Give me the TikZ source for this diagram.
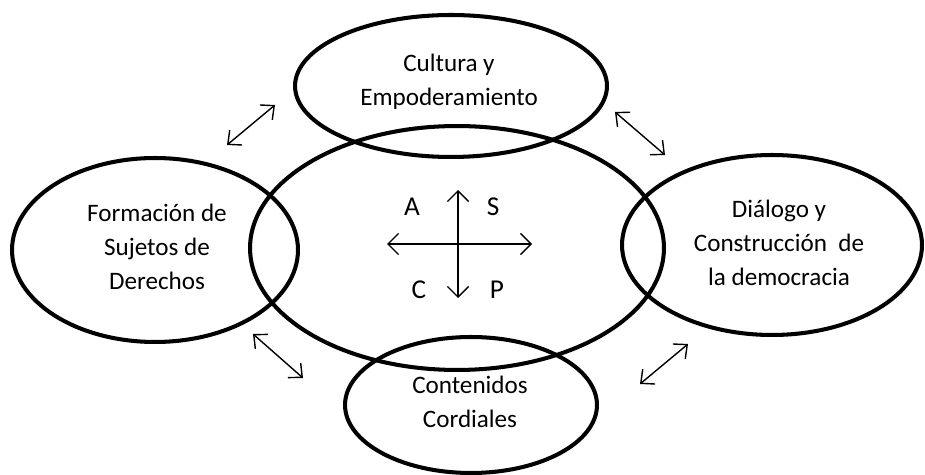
\documentclass[tikz,border=0pt]{standalone}
\usepackage{fontspec}
\setmainfont{Carlito}
\usetikzlibrary{shapes.geometric,arrows.meta}
\begin{document}
\begin{tikzpicture}[x=0.02cm,y=-0.02cm,
  oval/.style={draw,line width=2.3pt,ellipse,inner sep=0pt},
  txt/.style={align=center,inner sep=0pt,font=\fontsize{14.3}{19.3}\selectfont},
  letter/.style={inner sep=0pt,font=\fontsize{15.5}{18}\selectfont},
  link/.style={{Straight Barb[length=6pt,width=11pt]}-{Straight Barb[length=6pt,width=11pt]},line width=0.8pt},
  axis/.style={{Straight Barb[length=6pt,width=12pt]}-{Straight Barb[length=6pt,width=12pt]},line width=0.8pt}]
\useasboundingbox (0,0) rectangle (925,475);
% ellipses
\node[oval,minimum width=8.28cm,minimum height=4.88cm] (mid) at (457,248) {};
\node[oval,minimum width=6.24cm,minimum height=2.84cm] (top) at (451,86) {};
\node[oval,minimum width=5.72cm,minimum height=3.68cm] (left) at (155,250) {};
\node[oval,minimum width=6.0cm,minimum height=3.6cm] (right) at (772,245) {};
\node[oval,minimum width=5.04cm,minimum height=2.72cm] (bot) at (471,405) {};
% texts
\node[txt] (toptxt) at (449,82) {Cultura y\\Empoderamiento};
\node[txt] (lefttxt) at (157,247) {Formación de\\Sujetos de\\Derechos};
\node[txt] (righttxt) at (779,243) {Diálogo y\\Construcción~ de\\la democracia};
\node[txt] (bottxt) at (470,402) {Contenidos\\Cordiales};
% central cross
\coordinate (vt) at (458,190);
\coordinate (vb) at (458,298);
\coordinate (hl) at (387,244);
\coordinate (hr) at (532,244);
\draw[axis] (vt) -- (vb);
\draw[axis] (hl) -- (hr);
\node[letter] (la) at (412,207) {A};
\node[letter] (ls) at (493,207) {S};
\node[letter] (lc) at (419,290) {C};
\node[letter] (lp) at (497,290) {P};
% diagonal double arrows
\coordinate (a1) at (227,145); \coordinate (a2) at (275,105);
\coordinate (b1) at (615,112); \coordinate (b2) at (665,155);
\coordinate (c1) at (253,334); \coordinate (c2) at (303,378);
\coordinate (d1) at (640,384); \coordinate (d2) at (688,344);
\draw[link] (a1) -- (a2);
\draw[link] (b1) -- (b2);
\draw[link] (c1) -- (c2);
\draw[link] (d1) -- (d2);
\end{tikzpicture}
\end{document}
